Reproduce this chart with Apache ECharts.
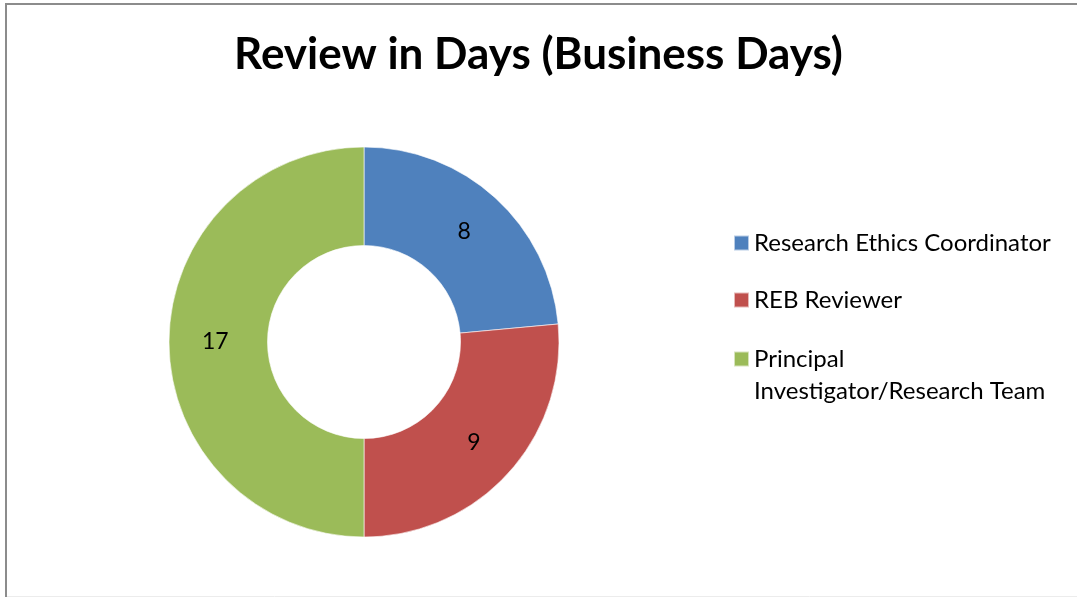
<!DOCTYPE html>
<html>
<head>
<meta charset="utf-8">
<script src="https://cdn.jsdelivr.net/npm/echarts@6/dist/echarts.min.js"></script>
<style>
html,body{margin:0;padding:0;background:#fff;}
#chart{width:1077px;height:597px;}
</style>
</head>
<body>
<div id="chart"></div>
<script>
const titleText = 'Review in Days (Business Days)';
const categories = ['Research Ethics Coordinator', 'REB Reviewer', 'Principal Investigator/Research Team'];
const values = [8, 9, 17];
const colors = ['#4F81BD', '#C0504D', '#9BBB59'];

const FONT = 'Lato';
const chart = echarts.init(document.getElementById('chart'));
const data = categories.map((c, i) => ({ name: c, value: values[i], itemStyle: { color: colors[i] } }));

chart.setOption({
  backgroundColor: '#fff',
  animation: false,
  title: {
    text: titleText,
    left: 'center',
    top: 28,
    textStyle: { fontFamily: FONT, fontWeight: 'bold', fontSize: 44, color: '#000' }
  },
  legend: [
    {
      data: categories.slice(0, 2),
      orient: 'vertical',
      left: 733,
      top: 227.5,
      padding: 0,
      itemGap: 26,
      itemWidth: 15,
      itemHeight: 15,
      itemTextGap: 7,
      icon: 'rect',
      selectedMode: false,
      textStyle: { fontFamily: FONT, fontSize: 24, color: '#000', lineHeight: 31 }
    },
    {
      data: categories.slice(2),
      orient: 'vertical',
      left: 733,
      top: 311,
      padding: 0,
      itemWidth: 15,
      itemHeight: 15,
      itemTextGap: 7,
      icon: 'rect',
      selectedMode: false,
      formatter: function () { return '\nPrincipal\nInvestigator/Research Team'; },
      textStyle: { fontFamily: FONT, fontSize: 24, color: '#000', lineHeight: 32 }
    }
  ],
  graphic: [
    { type: 'line', shape: { x1: 5, y1: 4, x2: 1077, y2: 4 }, style: { stroke: '#8c8c8c', lineWidth: 2 }, silent: true },
    { type: 'line', shape: { x1: 6, y1: 3, x2: 6, y2: 597 }, style: { stroke: '#8c8c8c', lineWidth: 2 }, silent: true },
    { type: 'line', shape: { x1: 7, y1: 596.5, x2: 1077, y2: 596.5 }, style: { stroke: '#ececec', lineWidth: 1 }, silent: true }
  ],
  series: [{
    type: 'pie',
    center: [364, 342],
    radius: [96.5, 195],
    startAngle: 90,
    clockwise: true,
    avoidLabelOverlap: false,
    label: {
      show: true,
      position: 'inside',
      formatter: '{c}',
      fontFamily: FONT,
      fontSize: 23,
      color: '#000'
    },
    labelLine: { show: false },
    itemStyle: { borderColor: 'rgba(255,255,255,0.6)', borderWidth: 1 },
    emphasis: { disabled: true },
    data: data
  }]
});
</script>
</body>
</html>
